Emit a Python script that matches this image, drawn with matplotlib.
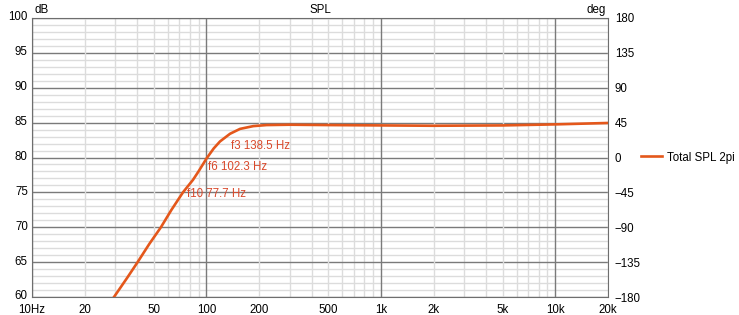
import matplotlib
matplotlib.use('Agg')
import matplotlib.pyplot as plt
import matplotlib.transforms as mtransforms
from matplotlib.ticker import FixedLocator, MultipleLocator, LogLocator, NullFormatter

plt.rcParams['font.family'] = ['Liberation Sans', 'DejaVu Sans']
plt.rcParams['font.size'] = 8.3

# SPL curve (Hz, dB)
freq = [28, 29.5, 35, 40.3, 47, 54.8, 63, 73.3, 83.7, 90, 100.3, 110, 119.5,
        136.4, 155.6, 185.4, 221, 300, 500, 1000, 2000, 5000, 10000, 20000]
spl = [59.2, 60.0, 62.7, 65.0, 67.6, 70.0, 72.5, 75.0, 76.8, 78.0, 79.9, 81.3,
       82.3, 83.4, 84.1, 84.5, 84.65, 84.7, 84.65, 84.6, 84.55, 84.6, 84.75, 84.95]

# cutoff markers
mark_names = ['f3 138.5 Hz', 'f6 102.3 Hz', 'f10 77.7 Hz']
mark_freq = [138.5, 102.3, 77.7]
mark_db = [81.6, 78.6, 74.8]

xticks = [10, 20, 50, 100, 200, 500, 1000, 2000, 5000, 10000, 20000]
xlabels = ['10Hz', '20', '50', '100', '200', '500', '1k', '2k', '5k', '10k', '20k']
deg_ticks = [-180, -135, -90, -45, 0, 45, 90, 135, 180]

line_col = '#e4571b'
text_col = '#d9482a'

fig = plt.figure(figsize=(7.39, 3.15), dpi=100)
ax = fig.add_axes([32 / 739, 18 / 315, 576 / 739, 279 / 315])

ax.semilogx(freq, spl, color=line_col, lw=1.9, label='Total SPL 2pi', zorder=3)
ax.set_xlim(10, 20000)
ax.set_ylim(60, 100)

ax.xaxis.set_major_locator(FixedLocator(xticks))
ax.set_xticklabels(xlabels)
ax.xaxis.set_minor_locator(LogLocator(base=10, subs=[2, 3, 4, 5, 6, 7, 8, 9], numticks=20))
ax.xaxis.set_minor_formatter(NullFormatter())
ax.yaxis.set_major_locator(MultipleLocator(5))
ax.yaxis.set_minor_locator(MultipleLocator(1))

ax.set_axisbelow(True)
ax.grid(which='minor', color='#dcdcdc', lw=1)
ax.grid(which='major', axis='y', color='#7a7a7a', lw=1)
# decade lines dark, the rest of the x majors light
for f in xticks:
    c = '#7a7a7a' if f in (10, 100, 1000, 10000) else '#dcdcdc'
    ax.axvline(f, color=c, lw=1, zorder=1.5 if c == '#7a7a7a' else 0.6)

ax.tick_params(which='both', length=0)
ax.tick_params(axis='y', pad=3)
ax.tick_params(axis='x', pad=5)
for s in ax.spines.values():
    s.set_color('#6e6e6e')

# dB labels sit a touch above their grid lines
up = mtransforms.ScaledTranslation(0, 1.5 / 72, fig.dpi_scale_trans)
for lab in ax.get_yticklabels():
    lab.set_transform(lab.get_transform() + up)

ax2 = ax.twinx()
ax2.set_ylim(-180, 180)
ax2.set_yticks(deg_ticks)
ax2.tick_params(length=0, pad=5)
for s in ax2.spines.values():
    s.set_visible(False)

for name, f, d in zip(mark_names, mark_freq, mark_db):
    ax.text(f, d, name, color=text_col, ha='left', va='center')

ax.text(0.004, 1.008, 'dB', transform=ax.transAxes, ha='left', va='bottom')
ax.text(0.996, 1.008, 'deg', transform=ax.transAxes, ha='right', va='bottom')
ax.text(0.5, 1.008, 'SPL', transform=ax.transAxes, ha='center', va='bottom')

ax.legend(loc='center left', bbox_to_anchor=(1.057, 0.5), frameon=False,
          borderaxespad=0, borderpad=0, handlelength=1.8, handletextpad=0.5)

fig.savefig('out.png', dpi=100)
